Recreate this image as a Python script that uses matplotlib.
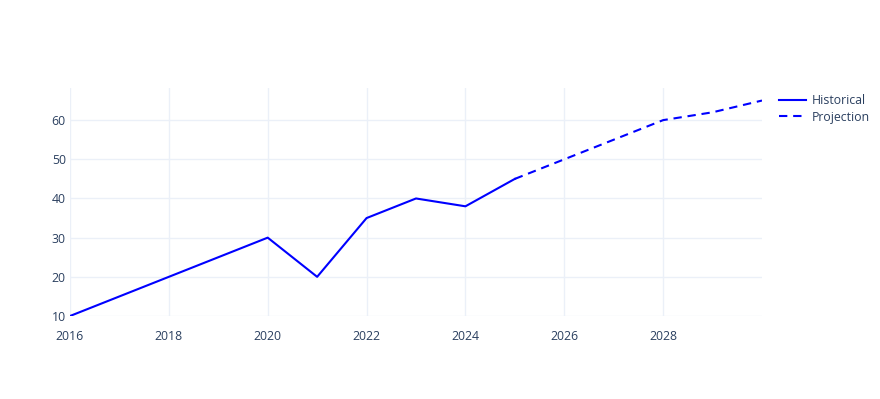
import matplotlib.pyplot as plt

hist_years = [2016, 2018, 2020, 2021, 2022, 2023, 2024, 2025]
hist_vals = [10, 20, 30, 20, 35, 40, 38, 45]
proj_years = [2025, 2026, 2027, 2028, 2029, 2030]
proj_vals = [45, 50, 55, 60, 62, 65]

x_ticks = [2016, 2018, 2020, 2022, 2024, 2026, 2028]
y_ticks = [10, 20, 30, 40, 50, 60]

plt.rcParams['font.family'] = ['Open Sans', 'DejaVu Sans']
text_col = '#2a3f5f'
grid_col = '#ebf0f8'

fig = plt.figure(figsize=(8.8, 3.99), dpi=100)
ax = fig.add_axes([70/880, (399-316)/399, (762-70)/880, (316-88)/399])

ax.plot(hist_years, hist_vals, color='blue', lw=1.5, label='Historical', zorder=3)
ax.plot(proj_years, proj_vals, color='blue', lw=1.5, ls=(0, (4, 2.8)), label='Projection', zorder=3)

ax.set_xlim(2016, 2030)
ax.set_ylim(10, 68.2)
ax.set_xticks(x_ticks)
ax.set_yticks(y_ticks)
ax.grid(True, color=grid_col, lw=1)
ax.set_axisbelow(True)
for s in ax.spines.values():
    s.set_visible(False)
ax.tick_params(length=0, labelsize=8.8, labelcolor=text_col)
ax.tick_params(axis='x', pad=10)
ax.tick_params(axis='y', pad=3)

leg = ax.legend(loc='upper left', bbox_to_anchor=(779/880, 1 - 94/399), bbox_transform=fig.transFigure,
                frameon=False, fontsize=8.8, handlelength=2.2, handletextpad=0.45,
                labelspacing=0.3, borderaxespad=0, borderpad=0)
for t in leg.get_texts():
    t.set_color(text_col)

fig.savefig('out.png', dpi=100)
